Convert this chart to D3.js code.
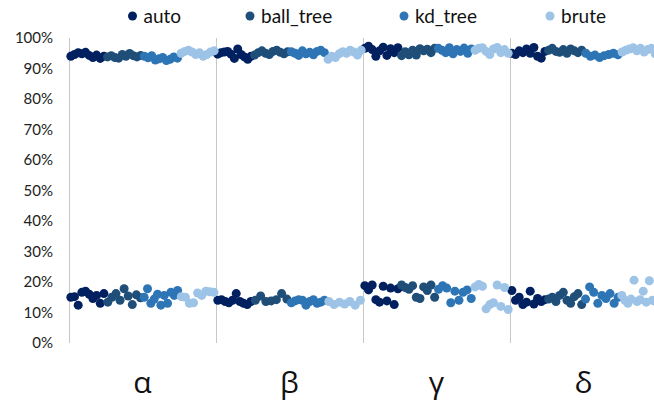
<!DOCTYPE html>
<html>
<head>
<meta charset="utf-8">
<script src="https://cdn.jsdelivr.net/npm/d3@7"></script>
<style>
  html, body { margin: 0; padding: 0; background: #fff; overflow: hidden; }
  svg { display: block; }
</style>
</head>
<body>
<svg id="chart" width="654" height="401"></svg>
<script>
// Categories and series
const categories = ["α", "β", "γ", "δ"];
const seriesNames = ["auto", "ball_tree", "kd_tree", "brute"];
const seriesColors = ["#002060", "#1f4e79", "#2e75b6", "#9dc3e6"];
const yTicks = [0, 0.1, 0.2, 0.3, 0.4, 0.5, 0.6, 0.7, 0.8, 0.9, 1.0];

// Accuracy (%) per run, one list per category (α, β, γ, δ), ordered left to right
const autoHigh = [
  [94.0, 94.6, 95.2, 94.8, 95.3, 94.3, 93.6, 94.4, 93.3, 94.0],
  [94.7, 95.2, 95.4, 95.6, 94.7, 93.3, 96.4, 94.6, 93.8, 93.0, 94.0],
  [96.6, 97.3, 96.2, 94.0, 95.8, 97.0, 94.3, 96.5, 95.2, 96.8],
  [95.0, 94.6, 95.8, 95.2, 96.4, 95.0, 96.9, 94.0, 93.4, 95.6]
];
const autoLow = [
  [15.0, 15.2, 12.4, 16.6, 17.0, 16.0, 14.6, 15.6, 13.0, 16.2],
  [14.0, 14.2, 13.6, 13.2, 14.0, 16.2, 13.6, 13.0, 12.6, 13.6],
  [18.8, 17.4, 19.0, 14.2, 13.4, 18.6, 13.8, 18.0, 12.6, 17.8],
  [17.2, 14.0, 15.0, 12.6, 13.4, 17.0, 12.8, 14.6, 13.6, 14.2]
];
const ballTreeHigh = [
  [93.8, 94.2, 93.6, 93.4, 94.6, 94.0, 94.9, 94.2, 93.8, 94.3],
  [94.4, 95.2, 95.8, 95.0, 94.6, 95.6, 96.0, 95.3, 94.8, 95.5],
  [94.2, 95.5, 94.5, 96.0, 94.4, 96.5, 95.8, 96.3, 95.2, 96.6],
  [96.0, 96.6, 95.6, 95.3, 96.2, 95.0, 96.4, 95.8, 95.2, 96.0]
];
const ballTreeLow = [
  [13.4, 15.0, 16.2, 14.0, 17.8, 15.4, 12.6, 15.8, 14.8],
  [14.0, 15.4, 13.6, 13.8, 14.2, 16.2, 14.4],
  [19.0, 18.2, 17.6, 18.8, 15.0, 14.6, 18.4, 17.2, 19.0, 15.0],
  [14.4, 15.0, 13.6, 15.6, 16.6, 14.0, 13.0, 15.2, 16.2, 12.6]
];
const kdTreeHigh = [
  [94.0, 93.5, 94.2, 92.8, 93.2, 93.6, 92.6, 93.0, 93.8, 93.4],
  [95.5, 95.0, 94.3, 95.8, 94.8, 95.3, 94.5, 95.6, 96.0, 95.2],
  [96.6, 96.0, 95.2, 96.8, 94.8, 96.2, 95.6, 96.7, 95.0, 96.4],
  [95.0, 94.0, 94.4, 93.6, 94.2, 94.6, 95.0, 94.5]
];
const kdTreeLow = [
  [15.0, 17.8, 13.0, 14.4, 16.0, 12.4, 15.6, 13.0, 16.6, 15.6, 17.2],
  [13.2, 13.8, 14.2, 14.0, 12.4, 13.6, 14.2, 13.0, 13.4, 14.0],
  [17.6, 18.8, 18.0, 13.2, 17.0, 14.0, 16.6, 17.4, 14.6],
  [14.4, 18.4, 16.6, 13.0, 15.6, 14.6, 16.2, 13.0, 15.0]
];
const bruteHigh = [
  [95.0, 95.6, 96.0, 95.4, 94.6, 95.2, 94.0, 94.6, 95.4, 95.8],
  [93.0, 94.0, 93.6, 94.8, 95.5, 95.0, 96.0, 95.4, 94.4, 96.0],
  [96.0, 96.6, 96.8, 95.6, 94.6, 96.4, 96.9, 95.2, 96.2, 95.0],
  [95.4, 96.0, 96.4, 96.8, 95.8, 96.6, 95.4, 96.2, 96.6, 94.8]
];
const bruteLow = [
  [15.2, 15.0, 13.0, 13.2, 16.4, 15.6, 17.0, 16.8, 16.6],
  [13.6, 12.6, 13.4, 12.8, 13.6, 12.4, 14.0],
  [18.4, 19.2, 18.6, 11.2, 12.6, 13.2, 19.0, 12.0, 18.2, 11.0],
  [15.6, 14.0, 13.0, 14.4, 20.6, 13.6, 14.2, 17.0, 13.4, 20.4, 14.0, 13.6]
];

const seriesHigh = [autoHigh, ballTreeHigh, kdTreeHigh, bruteHigh];
const seriesLow = [autoLow, ballTreeLow, kdTreeLow, bruteLow];

// Flatten into points: position inside the category band comes from series index + run index
const points = [];
seriesNames.forEach((name, s) => {
  categories.forEach((cat, c) => {
    [seriesHigh[s][c], seriesLow[s][c]].forEach(list => {
      list.forEach((v, k) => {
        points.push({ series: s, cat: c, slot: s + (k + 0.5) / list.length, value: v / 100 });
      });
    });
  });
});

const svg = d3.select("#chart");
const margin = { left: 69, top: 38, bottom: 343 };
const plotRight = 69 + 147 * 4;

const x = d3.scaleBand().domain(categories).range([margin.left, plotRight]).paddingInner(0).paddingOuter(0);
const y = d3.scaleLinear().domain([0, 1]).range([margin.bottom, margin.top]);
const slotScale = d3.scaleLinear().domain([0, 4]).range([0, x.bandwidth()]);

// Category separators (vertical grid)
svg.append("g")
  .selectAll("line")
  .data(categories)
  .join("line")
  .attr("x1", d => x(d) + 0.5)
  .attr("x2", d => x(d) + 0.5)
  .attr("y1", y(1))
  .attr("y2", y(0))
  .attr("stroke", "#c8c8c8")
  .attr("stroke-width", 1);

// Y axis labels
const yAxis = d3.axisLeft(y).tickValues(yTicks).tickFormat(d3.format(".0%")).tickSize(0).tickPadding(16);
const yg = svg.append("g").attr("transform", `translate(${margin.left},0)`).call(yAxis);
yg.select(".domain").remove();
yg.selectAll("text")
  .attr("font-family", "Lato, 'Open Sans', sans-serif")
  .attr("font-size", 15)
  .attr("fill", "#222");

// Category labels
const xAxis = d3.axisBottom(x).tickSize(0).tickPadding(0);
const xg = svg.append("g").attr("transform", `translate(0,${margin.bottom})`).call(xAxis);
xg.select(".domain").remove();
xg.selectAll("text")
  .attr("dy", null)
  .attr("y", 50)
  .attr("font-family", "'Open Sans', 'Noto Sans', sans-serif")
  .attr("font-size", 30)
  .attr("fill", "#111");

// Points
svg.append("g")
  .selectAll("circle")
  .data(points)
  .join("circle")
  .attr("cx", d => x(categories[d.cat]) + slotScale(d.slot))
  .attr("cy", d => y(d.value))
  .attr("r", 4.5)
  .attr("fill", d => seriesColors[d.series]);

// Legend
const legendX = [132.5, 250, 404, 550];
const legend = svg.append("g").selectAll("g")
  .data(seriesNames)
  .join("g")
  .attr("transform", (d, i) => `translate(${legendX[i]},16)`);
legend.append("circle").attr("r", 4.5).attr("fill", (d, i) => seriesColors[i]);
legend.append("text")
  .attr("x", 11)
  .attr("dy", "0.35em")
  .attr("font-family", "Lato, 'Open Sans', sans-serif")
  .attr("font-size", 19)
  .attr("fill", "#111")
  .text(d => d);
</script>
</body>
</html>
